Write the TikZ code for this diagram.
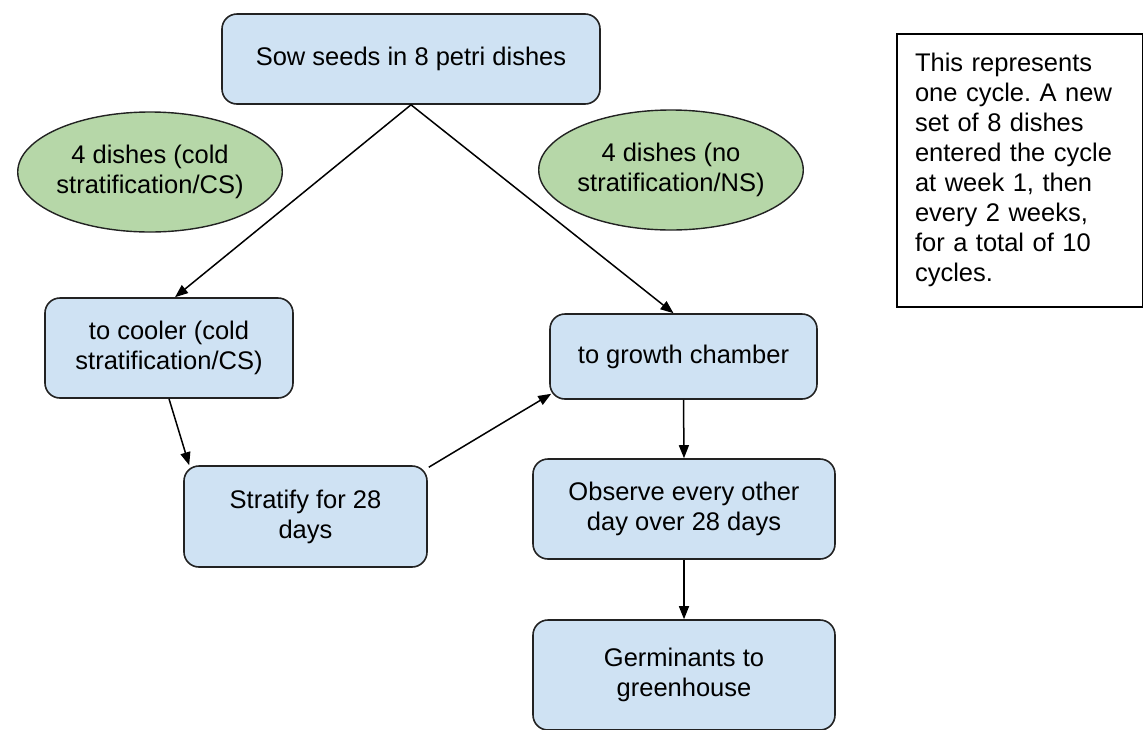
\documentclass[tikz,border=0pt]{standalone}
\usepackage{fontspec}
\setmainfont{Liberation Sans}
\usetikzlibrary{shapes.geometric,arrows.meta,calc}
\definecolor{boxblue}{HTML}{CFE2F3}
\definecolor{ellgreen}{HTML}{B6D7A8}
\definecolor{edge}{HTML}{222222}
\frenchspacing
\begin{document}
\begin{tikzpicture}[x=1pt,y=-1pt,
  every node/.style={font=\fontsize{25.5}{30}\selectfont, text=black},
  procbox/.style={draw=edge, line width=1.6pt, fill=boxblue, rounded corners=15pt, align=center, inner sep=0pt},
  grpell/.style={ellipse, draw=edge, line width=1.4pt, fill=ellgreen, align=center, inner sep=0pt},
  notebox/.style={draw=black, line width=2pt, fill=white, align=left, text width=210pt, inner xsep=18pt, inner ysep=0pt},
  conn/.style={draw=black, line width=1.5pt, -{Triangle[length=13pt,width=10pt]}}
]
\useasboundingbox (0,0) rectangle (1143,729);
\node[procbox, minimum width=378pt, minimum height=90pt] (sow) at (411,59) {Sow seeds in 8 petri dishes};
\node[grpell, minimum width=256pt, minimum height=120pt] (cs) at (150,172) {4 dishes (cold\\stratification/CS)};
\node[grpell, minimum width=250pt, minimum height=120pt] (ns) at (671,170) {4 dishes (no\\stratification/NS)};
\node[notebox, minimum height=273pt] (note) at (1020,170) {This represents\\one cycle. A new\\set of 8 dishes\\entered the cycle\\at week 1, then\\every 2 weeks,\\for a total of 10\\cycles.};
\node[procbox, minimum width=248pt, minimum height=100pt] (cooler) at (169,348) {to cooler (cold\\stratification/CS)};
\node[procbox, minimum width=267pt, minimum height=85pt] (growth) at (683.5,356.5) {to growth chamber};
\node[procbox, minimum width=243pt, minimum height=101pt] (strat) at (305.5,516.5) {Stratify for 28\\days};
\node[procbox, minimum width=302pt, minimum height=100pt] (observe) at (684,509) {Observe every other\\day over 28 days};
\node[procbox, minimum width=302pt, minimum height=110pt] (germ) at (684,675) {Germinants to\\greenhouse};
\draw[conn] (sow.south) -- ($(cooler.north)+(6,0)$);
\draw[conn] (sow.south) -- ($(growth.north)+(-10,0)$);
\draw[conn] (cooler.south) -- ($(strat.north west)+(6,0)$);
\draw[conn] ($(strat.north east)+(1,2)$) -- ($(growth.south west)+(2,-6)$);
\draw[conn] (growth.south) -- (observe.north);
\draw[conn] (observe.south) -- (germ.north);
\end{tikzpicture}
\end{document}
